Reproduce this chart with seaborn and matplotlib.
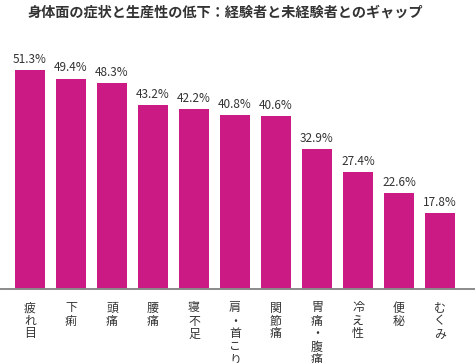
import matplotlib

matplotlib.use("Agg")
import matplotlib.pyplot as plt
import seaborn as sns

# 症状ごとの割合（%）
symptoms = ["疲れ目", "下痢", "頭痛", "腰痛", "寝不足", "肩・首こり",
            "関節痛", "胃痛・腹痛", "冷え性", "便秘", "むくみ"]
rates = [51.3, 49.4, 48.3, 43.2, 42.2, 40.8, 40.6, 32.9, 27.4, 22.6, 17.8]
title = "身体面の症状と生産性の低下：経験者と未経験者とのギャップ"

BAR_COLOR = "#CB1A84"

sns.set_style("white")
plt.rcParams["font.family"] = ["Noto Sans CJK JP", "DejaVu Sans"]

fig = plt.figure(figsize=(4.75, 3.63), dpi=100)
ax = fig.add_axes([0.0, 74 / 363, 1.0, 249 / 363])

sns.barplot(x=symptoms, y=rates, color=BAR_COLOR, saturation=1,
            width=0.73, linewidth=0, ax=ax)

ax.set_xlim(-30 / 41, 445 / 41)
ax.set_ylim(0, 249 / 4.26)

ax.bar_label(ax.containers[0], labels=[f"{v}%" for v in rates],
             padding=3, fontsize=8.5, color="#333333")

# 縦書きのラベル
ax.set_xticks(range(len(symptoms)))
ax.set_xticklabels(["\n".join(s) for s in symptoms], fontsize=8.6,
                   color="#333333", linespacing=1.0, va="top")
ax.tick_params(axis="x", length=0, pad=9)
ax.set_yticks([])
ax.set_xlabel("")
ax.set_ylabel("")

for side in ["left", "right", "top"]:
    ax.spines[side].set_visible(False)
ax.spines["bottom"].set_color("#8a8a8a")
ax.spines["bottom"].set_linewidth(1.4)

fig.text(27 / 475, 1 - 13 / 363, title, fontsize=10.2, fontweight="bold",
         color="#333333", ha="left", va="center")

fig.savefig("out.png", dpi=100)
plt.close(fig)
